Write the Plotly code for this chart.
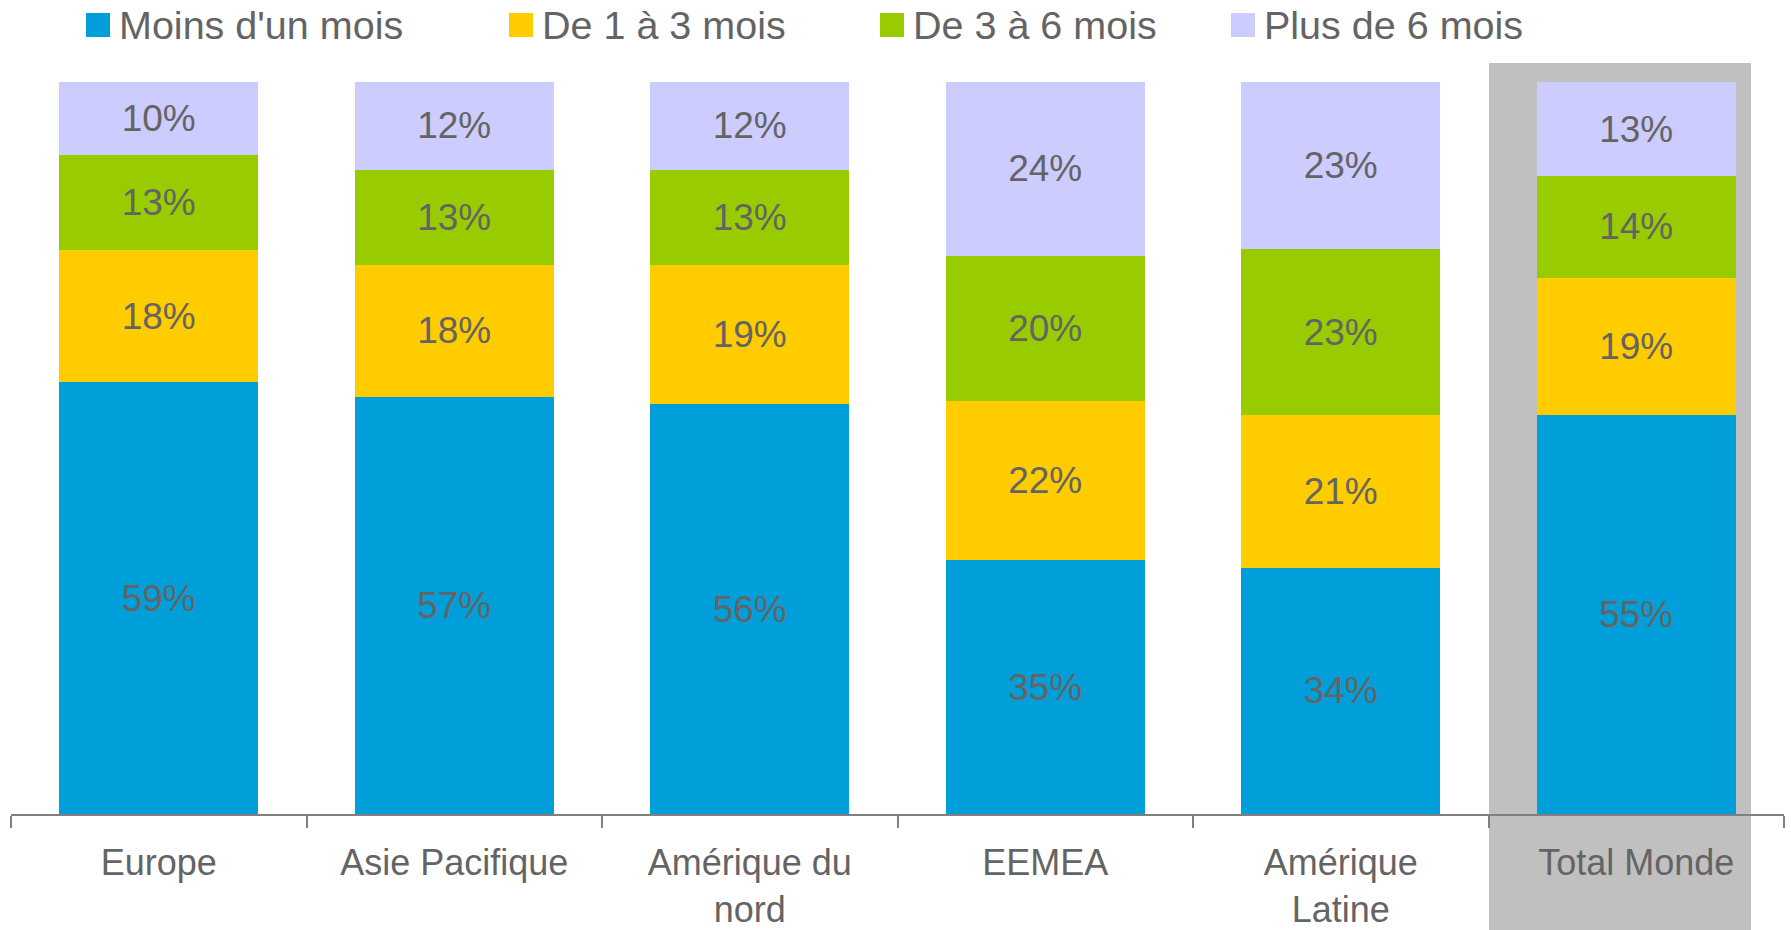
import plotly.graph_objects as go

REGIONS = ["Europe", "Asie Pacifique", "Amérique du<br>nord", "EEMEA",
           "Amérique<br>Latine", "Total Monde"]
SERIES = ["Moins d'un mois", "De 1 à 3 mois", "De 3 à 6 mois", "Plus de 6 mois"]
MOINS_UN_MOIS = [59, 57, 56, 35, 34, 55]
UN_A_TROIS = [18, 18, 19, 22, 21, 19]
TROIS_A_SIX = [13, 13, 13, 20, 23, 14]
PLUS_DE_SIX = [10, 12, 12, 24, 23, 13]

COLORS = ["#009FDA", "#FFCC00", "#99CC00", "#CCCCFF"]
TEXT_GRAY = "#646464"
FONT = "Liberation Sans, Arial, sans-serif"

W, H = 1791, 930
ML, MR, MT, MB = 11, 7, 82, 116
PW, PH = W - ML - MR, H - MT - MB


def px_x(p):
    return (p - ML) / PW


def px_y(p):
    return (H - MB - p) / PH


fig = go.Figure()
for name, vals, color in zip(SERIES, [MOINS_UN_MOIS, UN_A_TROIS, TROIS_A_SIX, PLUS_DE_SIX], COLORS):
    fig.add_trace(go.Bar(
        x=REGIONS, y=vals, name=name,
        marker=dict(color=color, line=dict(width=0)),
        text=vals, texttemplate="%{text}%",
        textposition="inside", insidetextanchor="middle", textangle=0,
        textfont=dict(family=FONT, size=37, color=TEXT_GRAY),
        showlegend=False,
    ))

# grey highlight behind "Total Monde"
shapes = [dict(
    type="rect", xref="paper", yref="paper", layer="below",
    x0=px_x(1489), x1=px_x(1751), y0=px_y(H), y1=px_y(63),
    fillcolor="#C0C0C0", line=dict(width=0),
)]
annotations = []
# legend drawn by hand: big square swatches like the original
legend_x = [86, 509, 880, 1231]
for name, color, lx in zip(SERIES, COLORS, legend_x):
    shapes.append(dict(
        type="rect", xref="paper", yref="paper",
        x0=px_x(lx), x1=px_x(lx + 24), y0=px_y(37), y1=px_y(13),
        fillcolor=color, line=dict(width=0),
    ))
    annotations.append(dict(
        xref="paper", yref="paper", x=px_x(lx + 31), y=px_y(25),
        xanchor="left", yanchor="middle", showarrow=False, text=name,
        font=dict(family=FONT, size=39.5, color=TEXT_GRAY),
    ))

fig.update_layout(
    width=W, height=H,
    barmode="stack", barnorm="percent", bargap=0.327,
    margin=dict(l=ML, r=MR, t=MT, b=MB),
    paper_bgcolor="white", plot_bgcolor="rgba(0,0,0,0)",
    shapes=shapes, annotations=annotations,
    xaxis=dict(
        showline=True, linecolor="#808080", linewidth=1.5,
        ticks="outside", tickson="boundaries", ticklen=12, tickcolor="#808080",
        tickwidth=1.5, ticklabelstandoff=16, automargin=False,
        tickfont=dict(family=FONT, size=36, color=TEXT_GRAY),
        showgrid=False, zeroline=False,
    ),
    yaxis=dict(range=[0, 100], visible=False, automargin=False),
)

fig.write_html("out.html", config={"displayModeBar": False},
               post_script="document.body.style.margin='0';")
